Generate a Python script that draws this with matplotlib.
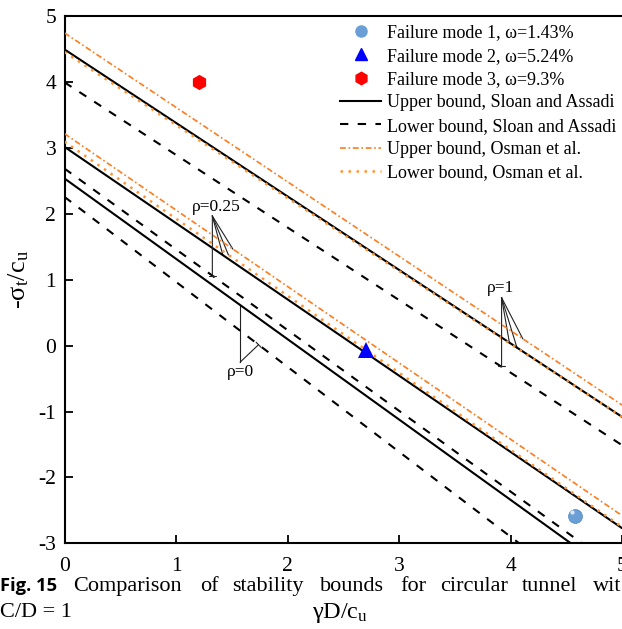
import matplotlib
matplotlib.use("Agg")
import matplotlib.pyplot as plt
from matplotlib.lines import Line2D

plt.rcParams["font.family"] = ["Liberation Serif", "DejaVu Serif"]
plt.rcParams["mathtext.fontset"] = "custom"
plt.rcParams["mathtext.rm"] = "Liberation Serif"
plt.rcParams["mathtext.it"] = "Liberation Serif:italic"
plt.rcParams["axes.unicode_minus"] = False

# bound lines: value at gammaD/cu = 0 and at gammaD/cu = 5
x_ends = [0, 5]
rho_values = ["1", "0.25", "0"]
ub_sloan = {"1": [4.50, -1.08], "0.25": [3.02, -2.77], "0": [2.54, -3.56]}
lb_sloan = {"1": [4.00, -1.51], "0.25": [2.69, -3.44], "0": [2.26, -4.19]}
ub_osman = {"1": [4.75, -0.90], "0.25": [3.22, -2.58]}
lb_osman = {"1": [4.46, -1.08], "0.25": [3.10, -2.75]}

# numerical results
mode_labels = ["Failure mode 1, ω=1.43%", "Failure mode 2, ω=5.24%", "Failure mode 3, ω=9.3%"]
mode_x = [4.58, 2.70, 1.21]
mode_y = [-2.59, -0.06, 4.00]

# rho labels: text, label pos, fan vertex, targets
rho_notes = [
    ("ρ=0.25", (1.36, 1.99), (1.326, 1.97),
     [(1.42, 1.376), (1.47, 1.38), (1.51, 1.468)], [(1.326, 1.064)]),
    ("ρ=1", (3.91, 0.75), (3.92, 0.73),
     [(3.99, 0.047), (4.06, -0.04), (4.11, 0.106)], [(3.92, -0.31)]),
]

ORANGE = "#ff7b1c"
ORANGE_DOT = "#ff9430"

fig = plt.figure(figsize=(6.22, 6.29), dpi=100)
ax = fig.add_axes([0.1037, 0.1363, 0.8963, 0.8375])

for r in rho_values:
    ax.plot(x_ends, ub_sloan[r], color="black", lw=1.5, zorder=3)
    ax.plot(x_ends, lb_sloan[r], color="black", lw=1.5, ls=(0, (4, 4.5)), zorder=3)
    if r in ub_osman:
        ax.plot(x_ends, ub_osman[r], color=ORANGE, lw=1.2, ls=(0, (3.5, 1.6, 1, 1.6)), zorder=3)
        ax.plot(x_ends, lb_osman[r], color=ORANGE_DOT, lw=1.8, ls=(0, (1, 2.2)), zorder=3)

# markers
ax.plot(mode_x[0], mode_y[0], "o", ms=10, color="#6a9fd6", mec="#4f86c0", mew=0.5, zorder=5)
ax.plot(mode_x[0] - 0.03, mode_y[0] + 0.06, "o", ms=3, color="#dbe9f7", mew=0, zorder=6)
ax.plot(mode_x[1], mode_y[1], "^", ms=11, color="#0000ff", mew=0, zorder=5)
ax.plot(mode_x[2], mode_y[2], "h", ms=11, color="#ff0000", mew=0, zorder=5)

# annotations
note_kw = dict(color="#222222", lw=0.8)
for text, lpos, vertex, fans, ticked in rho_notes:
    ax.text(lpos[0], lpos[1], text, ha="center", va="bottom", fontsize=12.5)
    for t in fans:
        ax.plot([vertex[0], t[0]], [vertex[1], t[1]], **note_kw)
    for t in ticked:
        ax.annotate("", xy=t, xytext=vertex,
                    arrowprops=dict(arrowstyle="-[, widthB=0.25, lengthB=0",
                                    shrinkA=0, shrinkB=0, **note_kw))

# rho = 0 note
ax.text(1.575, -0.27, "ρ=0", ha="center", va="top", fontsize=12.5)
ax.plot([1.575, 1.575], [-0.25, 0.62], **note_kw)
ax.annotate("", xy=(1.74, 0.015), xytext=(1.575, -0.25),
            arrowprops=dict(arrowstyle="-[, widthB=0.25, lengthB=0",
                            shrinkA=0, shrinkB=0, **note_kw))

ax.set_xlim(0, 5)
ax.set_ylim(-3, 5)
ax.set_xticks([0, 1, 2, 3, 4, 5])
ax.set_yticks([-3, -2, -1, 0, 1, 2, 3, 4, 5])
ax.tick_params(direction="in", length=6, width=1.3, labelsize=15.5)
ax.tick_params(axis="x", pad=10)
ax.tick_params(axis="y", pad=6)
for s in ["left", "bottom", "top"]:
    ax.spines[s].set_linewidth(1.5)
ax.spines["right"].set_visible(False)

ax.set_ylabel(r"-$\mathregular{σ_t/c_u}$", fontsize=19)
ax.yaxis.set_label_coords(-0.06, 0.5)
ax.set_xlabel(r"$\mathregular{γD/c_u}$", fontsize=17.5)
ax.xaxis.set_label_coords(0.495, -0.11)

handles = [
    Line2D([], [], ls="", marker="o", ms=8, color="#6a9fd6"),
    Line2D([], [], ls="", marker="^", ms=9, color="#0000ff"),
    Line2D([], [], ls="", marker="h", ms=9, color="#ff0000"),
    Line2D([], [], color="black", lw=1.5),
    Line2D([], [], color="black", lw=1.5, ls=(0, (4, 4.5))),
    Line2D([], [], color=ORANGE, lw=1.2, ls=(0, (3.5, 1.6, 1, 1.6))),
    Line2D([], [], color=ORANGE_DOT, lw=1.8, ls=(0, (1, 2.2))),
]
labels = mode_labels + [
    "Upper bound, Sloan and Assadi",
    "Lower bound, Sloan and Assadi",
    "Upper bound, Osman et al.",
    "Lower bound, Osman et al.",
]
ax.legend(handles, labels, loc="upper left", bbox_to_anchor=(0.494, 0.985),
          frameon=False, fontsize=13, handlelength=2.3, handletextpad=0.3,
          labelspacing=0.35, borderpad=0, borderaxespad=0)

# figure caption
W, H = 622, 629
fig.text(0 / W, 1 - 591 / H, "Fig. 15", fontsize=13.2, fontweight="bold",
         family=["Open Sans", "DejaVu Sans"], va="baseline")
caption_words = ["Comparison", "of", "stability", "bounds", "for", "circular", "tunnel", "wit"]
caption_x = [73, 200, 232, 320, 400, 440, 522, 593]
for w, px in zip(caption_words, caption_x):
    fig.text(px / W, 1 - 591 / H, w, fontsize=16, va="baseline")
fig.text(0, 1 - 617 / H, "C/D = 1", fontsize=16, va="baseline")

fig.savefig("out.png", dpi=100)
